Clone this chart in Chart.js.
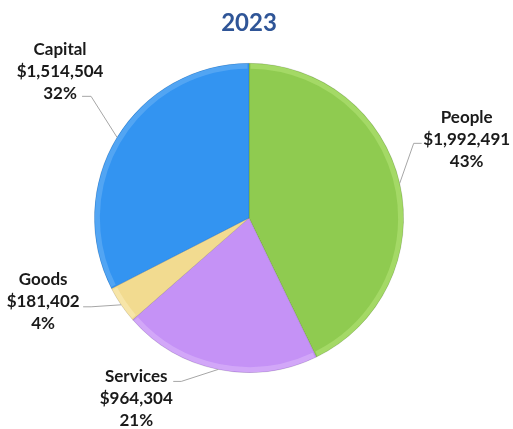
<!DOCTYPE html>
<html>
<head>
<meta charset="utf-8">
<script src="https://cdn.jsdelivr.net/npm/chart.js@4/dist/chart.umd.min.js"></script>
<style>
html,body{margin:0;padding:0;background:#fff;}
#wrap{width:513px;height:429px;position:relative;}
</style>
</head>
<body>
<div id="wrap"><canvas id="c" width="513" height="429"></canvas></div>
<script>
const chartTitle = '2023';
const categories = ['People', 'Services', 'Goods', 'Capital'];
const values = [1992491, 964304, 181402, 1514504];
const valueLabels = ['$1,992,491', '$964,304', '$181,402', '$1,514,504'];
const percentLabels = ['43%', '21%', '4%', '32%'];
const sliceColors = ['#8fcb50', '#c592f6', '#f2db90', '#3394f1'];
const rimColors = ['#a9dc6c', '#d4acf9', '#f8e7ae', '#5aa9f4'];

// leader / label placement relative to the slice's mid-angle point on the rim
const labelPlacement = [
  {elbow:[14,-40], end:[22,-40], text:[67,-44]},
  {elbow:[-37,12], end:[-45,12], text:[-82,29]},
  {elbow:[-30,2], end:[-38,2], text:[-78,-3]},
  {elbow:[-26,-41], end:[-35,-41], text:[-57,-66]}
];

const labelPlugin = {
  id: 'outLabels',
  afterDatasetsDraw(chart) {
    const ctx = chart.ctx;
    const meta = chart.getDatasetMeta(0);
    meta.data.forEach((arc, i) => {
      const p = arc.getProps(['x','y','startAngle','endAngle','outerRadius','innerRadius']);
      const mid = (p.startAngle + p.endAngle) / 2;
      // bevel rim
      ctx.save();
      ctx.beginPath();
      ctx.arc(p.x, p.y, p.outerRadius - 3, p.startAngle + 0.01, p.endAngle - 0.01);
      ctx.strokeStyle = rimColors[i];
      ctx.lineWidth = 5;
      ctx.globalAlpha = 0.8;
      ctx.stroke();
      ctx.restore();
    });
    meta.data.forEach((arc, i) => {
      const p = arc.getProps(['x','y','startAngle','endAngle','outerRadius']);
      const mid = (p.startAngle + p.endAngle) / 2;
      const ax = p.x + p.outerRadius * Math.cos(mid);
      const ay = p.y + p.outerRadius * Math.sin(mid);
      const pl = labelPlacement[i];
      ctx.save();
      ctx.strokeStyle = '#a6a6a6';
      ctx.lineWidth = 1;
      ctx.beginPath();
      ctx.moveTo(ax, ay);
      ctx.lineTo(ax + pl.elbow[0], ay + pl.elbow[1]);
      ctx.lineTo(ax + pl.end[0], ay + pl.end[1]);
      ctx.stroke();
      ctx.fillStyle = '#1a1a1a';
      ctx.font = 'bold 17px Lato';
      ctx.textAlign = 'center';
      ctx.textBaseline = 'middle';
      const tx = ax + pl.text[0], ty = ay + pl.text[1];
      ctx.fillText(categories[i], tx, ty - 22);
      ctx.fillText(valueLabels[i], tx, ty);
      ctx.fillText(percentLabels[i], tx, ty + 22);
      ctx.restore();
    });
  }
};

new Chart(document.getElementById('c'), {
  type: 'pie',
  data: {
    labels: categories,
    datasets: [{
      data: values,
      backgroundColor: sliceColors,
      borderColor: 'rgba(0,0,0,0.12)',
      borderWidth: 1
    }]
  },
  options: {
    responsive: false,
    animation: false,
    layout: {padding: {left: 93, right: 108, top: 0, bottom: 56}},
    plugins: {
      legend: {display: false},
      tooltip: {enabled: false},
      title: {
        display: true,
        text: chartTitle,
        color: '#2f5597',
        font: {family: 'Lato', size: 24, weight: 'bold'},
        padding: {top: 9, bottom: 25}
      }
    }
  },
  plugins: [labelPlugin]
});
</script>
</body>
</html>
